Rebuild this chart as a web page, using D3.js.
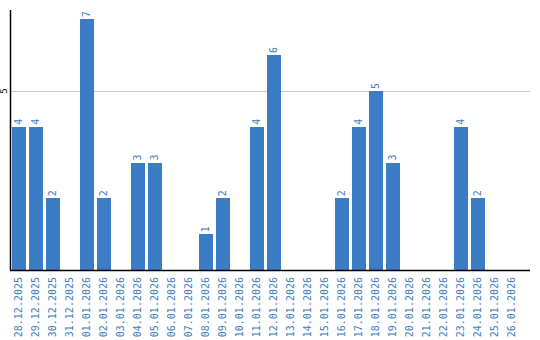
<!DOCTYPE html>
<html><head><meta charset="utf-8">
<script src="https://cdn.jsdelivr.net/npm/d3@7"></script>
<style>body{margin:0;background:#fff}svg{display:block}</style>
</head><body><svg id="c" width="540" height="340"></svg>
<script>
const categories = ["28.12.2025","29.12.2025","30.12.2025","31.12.2025","01.01.2026","02.01.2026","03.01.2026","04.01.2026","05.01.2026","06.01.2026","07.01.2026","08.01.2026","09.01.2026","10.01.2026","11.01.2026","12.01.2026","13.01.2026","14.01.2026","15.01.2026","16.01.2026","17.01.2026","18.01.2026","19.01.2026","20.01.2026","21.01.2026","22.01.2026","23.01.2026","24.01.2026","25.01.2026","26.01.2026"];
const values = [4,4,2,0,7,2,0,3,3,0,0,1,2,0,4,6,0,0,0,2,4,5,3,0,0,0,4,2,0,0];
const yTicks = [5];

const svg = d3.select("#c");
const color = "#3b7dc4";
const x = d3.scaleBand().domain(categories).range([10, 520]).paddingInner(3/17).paddingOuter(3/34);
const y = d3.scaleLinear().domain([0, 7.26]).range([270, 10]);

// grid
svg.selectAll("line.grid").data(yTicks).enter().append("line")
  .attr("x1", 10).attr("x2", 530)
  .attr("y1", d => Math.round(y(d)) + 0.5).attr("y2", d => Math.round(y(d)) + 0.5)
  .attr("stroke", "#c8c8c8").attr("stroke-width", 1);

// bars
svg.selectAll("rect.bar").data(values).enter().append("rect")
  .attr("x", (d, i) => Math.round(x(categories[i])))
  .attr("width", Math.round(x.bandwidth()))
  .attr("y", d => Math.round(y(d)))
  .attr("height", d => 270 - Math.round(y(d)))
  .attr("fill", color);

// value labels
svg.selectAll("text.val").data(values.map((v, i) => ({v, c: categories[i]})).filter(d => d.v > 0)).enter().append("text")
  .attr("transform", d => `translate(${x(d.c) + x.bandwidth() / 2 + 3.5},${y(d.v) - 2}) rotate(-90)`)
  .attr("font-family", "DejaVu Sans Mono, monospace").attr("font-size", 10)
  .attr("fill", color).text(d => d.v);

// axes
const xAxis = svg.append("g").attr("transform", "translate(0,270)");
xAxis.append("line").attr("x1", 10).attr("x2", 530).attr("y1", 0.5).attr("y2", 0.5).attr("stroke", "#000").attr("stroke-width", 1.5);
xAxis.selectAll("text").data(categories).enter().append("text")
  .attr("transform", d => `translate(${x(d) + x.bandwidth() / 2 + 3.5},7) rotate(-90)`)
  .attr("text-anchor", "end")
  .attr("font-family", "DejaVu Sans Mono, monospace").attr("font-size", 10)
  .attr("fill", color).text(d => d);

const yAxis = svg.append("g");
yAxis.append("line").attr("x1", 10.5).attr("x2", 10.5).attr("y1", 10).attr("y2", 270).attr("stroke", "#000").attr("stroke-width", 1.5);
yAxis.selectAll("text").data(yTicks).enter().append("text")
  .attr("transform", d => `translate(7,${y(d)}) rotate(-90)`)
  .attr("text-anchor", "middle")
  .attr("font-family", "DejaVu Sans Mono, monospace").attr("font-size", 9)
  .attr("fill", "#000").text(d => d);
</script></body></html>
